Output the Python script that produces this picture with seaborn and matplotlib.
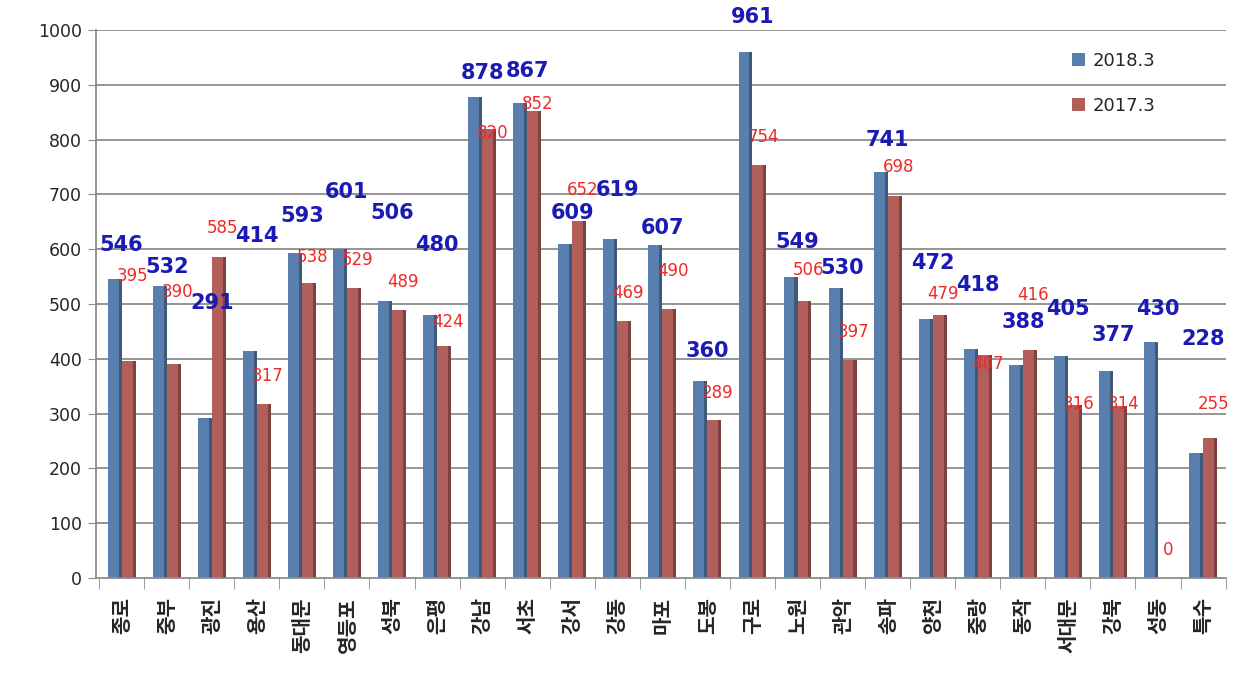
import pandas as pd
import numpy as np
import matplotlib
matplotlib.use('Agg')
import matplotlib.pyplot as plt
import seaborn as sns

# categories and values
districts = ['종로', '중부', '광진', '용산', '동대문', '영등포', '성북', '은평', '강남', '서초',
             '강서', '강동', '마포', '도봉', '구로', '노원', '관악', '송파', '양천', '중랑',
             '동작', '서대문', '강북', '성동', '특수']
v2018 = [546, 532, 291, 414, 593, 601, 506, 480, 878, 867,
         609, 619, 607, 360, 961, 549, 530, 741, 472, 418,
         388, 405, 377, 430, 228]
v2017 = [395, 390, 585, 317, 538, 529, 489, 424, 820, 852,
         652, 469, 490, 289, 754, 506, 397, 698, 479, 407,
         416, 316, 314, 0, 255]
years = ['2018.3', '2017.3']

# label offsets above the bar top (value units), mimicking the original placement
dy_2018 = [62, 36, 211, 210, 68, 103, 160, 128, 43, 58,
           57, 89, 32, 54, 64, 64, 36, 58, 103, 117,
           79, 86, 66, 61, 208]
dy_2017 = [156, 132, 54, 52, 48, 51, 51, 43, -8, 13,
           56, 51, 70, 49, 51, 56, 52, 52, 39, -17,
           100, 2, 4, 51, 63]

df = pd.DataFrame({
    'district': districts * 2,
    'year': [years[0]] * len(districts) + [years[1]] * len(districts),
    'count': v2018 + v2017,
})

sns.set_style('white')
plt.rcParams['font.family'] = ['DejaVu Sans', 'Noto Sans CJK KR']

fig = plt.figure(figsize=(12.57, 6.87), dpi=100)
ax = fig.add_axes([0.076, 0.159, 0.899, 0.797])

for y in range(100, 1001, 100):
    ax.axhline(y, color='#8c8c8c', lw=1.3, zorder=0)

sns.barplot(data=df, x='district', y='count', hue='year',
            palette=['#4a7ebb', '#c0504d'], width=0.62, gap=0,
            edgecolor='none', ax=ax, zorder=2)

# darker right edge to hint at the 3D look
for patch in ax.patches:
    x0 = patch.get_x(); w = patch.get_width(); h = patch.get_height()
    if h <= 0 or w <= 0:
        continue
    c = np.array(matplotlib.colors.to_rgb(patch.get_facecolor())) * 0.7
    ax.fill_between([x0 + w * 0.78, x0 + w], 0, h, color=c, lw=0, zorder=2.5)

bw = 0.31
for i in range(len(districts)):
    ax.text(i, v2018[i] + dy_2018[i], str(v2018[i]), ha='center', va='center',
            color='#1a1ab4', fontsize=15, fontweight='bold', zorder=5)
    ax.text(i + bw / 2 + 0.08, v2017[i] + dy_2017[i], str(v2017[i]), ha='center', va='center',
            color='#ee2a2a', fontsize=12, zorder=5)

ax.set_ylim(0, 1000)
ax.set_xlim(-0.58, 24.44)
ax.set_yticks(range(0, 1001, 100))
ax.tick_params(axis='y', labelsize=12.5, length=6, color='#8c8c8c', left=True, pad=4)
ax.set_xticks(range(len(districts)))
ax.set_xticklabels(districts, rotation=90, fontsize=14.5, fontweight='bold', va='top',
                   family='Noto Sans CJK KR')
ax.set_xticks(np.arange(-0.5, len(districts), 1), minor=True)
ax.tick_params(axis='x', which='major', length=0, pad=14)
ax.tick_params(axis='x', which='minor', length=8, color='#8c8c8c', bottom=True)
ax.set_xlabel('')
ax.set_ylabel('')
for s in ['top', 'right']:
    ax.spines[s].set_visible(False)
for s in ['left', 'bottom']:
    ax.spines[s].set_color('#8c8c8c')
    ax.spines[s].set_linewidth(1.3)

ax.legend(loc='upper left', bbox_to_anchor=(0.85, 0.99), frameon=False,
          fontsize=13, labelspacing=1.5, handlelength=0.7, handleheight=0.7,
          handletextpad=0.4)

fig.savefig('out.png', dpi=100)
